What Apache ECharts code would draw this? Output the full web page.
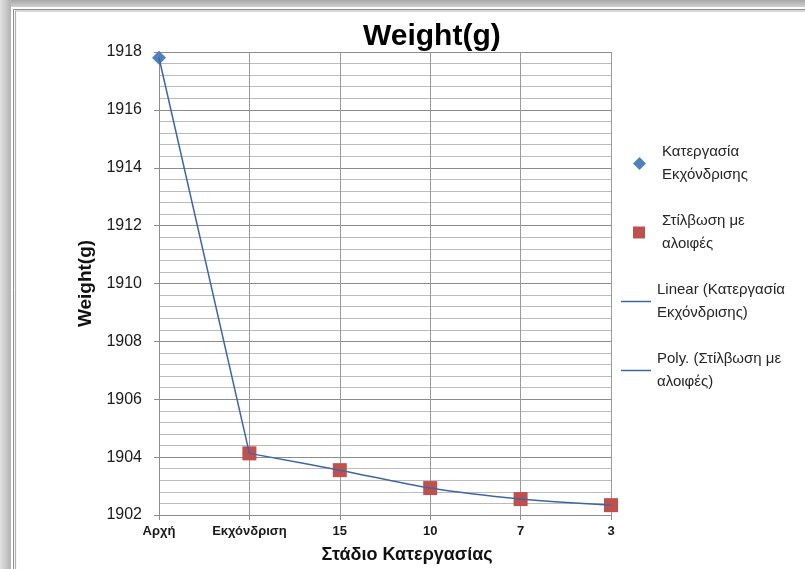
<!DOCTYPE html>
<html>
<head>
<meta charset="utf-8">
<script src="https://cdn.jsdelivr.net/npm/echarts@6/dist/echarts.min.js"></script>
<style>
  html, body { margin: 0; padding: 0; background: #fff; }
  #chart { width: 805px; height: 569px; }
</style>
</head>
<body>
<div id="chart"></div>
<script>
// Processing stages along the x axis
const stages = ['Αρχή', 'Εκχόνδριση', '15', '10', '7', '3'];

// Series values (grams); '-' marks a stage with no measurement
const chondroWeights = [1917.8, 1904.13, '-', '-', '-', '-'];
const polishWeights = ['-', 1904.13, 1903.55, 1902.93, 1902.55, 1902.34];

// Y axis range and step
const yMin = 1902;
const yMax = 1918;
const yStep = 2;

const names = {
  chondro: 'Κατεργασία Εκχόνδρισης',
  polish: 'Στίλβωση με αλοιφές',
  linear: 'Linear (Κατεργασία Εκχόνδρισης)',
  poly: 'Poly. (Στίλβωση με αλοιφές)'
};
const legendText = {};
legendText[names.chondro] = 'Κατεργασία\nΕκχόνδρισης';
legendText[names.polish] = 'Στίλβωση με\nαλοιφές';
legendText[names.linear] = 'Linear (Κατεργασία\nΕκχόνδρισης)';
legendText[names.poly] = 'Poly. (Στίλβωση με\nαλοιφές)';

const FONT = 'Liberation Sans, Arial, sans-serif';
const lineColor = '#3D67A3';

function legendFor(name, icon, left, top, w, h, textLeftPad) {
  return {
    data: [{ name: name, icon: icon }],
    orient: 'vertical',
    left: left,
    top: top,
    padding: 0,
    itemWidth: w,
    itemHeight: h,
    selectedMode: false,
    formatter: n => legendText[n],
    textStyle: {
      fontFamily: FONT,
      fontSize: 15,
      color: '#262626',
      lineHeight: 23,
      padding: [23, 0, 0, textLeftPad]
    }
  };
}

const chart = echarts.init(document.getElementById('chart'), null, { renderer: 'canvas' });

chart.setOption({
  backgroundColor: '#ffffff',
  animation: false,
  graphic: [
    {
      type: 'rect', z: -10, silent: true,
      shape: { x: 0, y: 0, width: 805, height: 7 },
      style: { fill: new echarts.graphic.LinearGradient(0, 0, 0, 1, [
        { offset: 0, color: '#a8a8a8' }, { offset: 1, color: '#cfcfcf' }]) }
    },
    {
      type: 'rect', z: -10, silent: true,
      shape: { x: 0, y: 0, width: 11, height: 569 },
      style: { fill: new echarts.graphic.LinearGradient(0, 0, 1, 0, [
        { offset: 0, color: '#e2e2e2' }, { offset: 1, color: '#b2b2b2' }]) }
    },
    {
      type: 'rect', z: -9, silent: true,
      shape: { x: 13.5, y: 9.5, width: 820, height: 600 },
      style: { fill: 'none', stroke: '#8e8e8e', lineWidth: 1 }
    },
    {
      type: 'rect', z: -9, silent: true,
      shape: { x: 15.5, y: 11, width: 820, height: 600 },
      style: { fill: 'none', stroke: '#b0b0b0', lineWidth: 1.2 }
    }
  ],
  title: {
    text: 'Weight(g)',
    left: 358,
    top: 17,
    textStyle: { fontFamily: FONT, fontSize: 30, fontWeight: 'bold', color: '#000' }
  },
  legend: [
    legendFor(names.chondro, 'diamond', 633, 129, 13, 13, 11),
    legendFor(names.polish, 'rect', 633, 198, 12, 12, 12),
    legendFor(names.linear, 'rect', 621, 267, 30, 1.5, 1),
    legendFor(names.poly, 'rect', 621, 336, 30, 1.5, 1)
  ],
  grid: { left: 159, right: 194, top: 52, bottom: 52, containLabel: false },
  xAxis: {
    type: 'category',
    data: stages,
    boundaryGap: false,
    name: 'Στάδιο Κατεργασίας',
    nameLocation: 'middle',
    nameGap: 31,
    nameTextStyle: {
      fontFamily: FONT, fontSize: 18, fontWeight: 'bold', color: '#111',
      padding: [0, 0, 0, 44]
    },
    axisLine: { show: true, lineStyle: { color: '#8c8c8c', width: 1 } },
    axisTick: { show: true, length: 5, interval: 0, lineStyle: { color: '#8c8c8c' } },
    axisLabel: {
      interval: 0, margin: 10, fontFamily: FONT, fontSize: 13, fontWeight: 'bold', color: '#1a1a1a'
    },
    splitLine: { show: true, interval: 0, lineStyle: { color: '#9a9a9a', width: 1 } }
  },
  yAxis: {
    type: 'value',
    min: yMin,
    max: yMax,
    interval: yStep,
    name: 'Weight(g)',
    nameLocation: 'middle',
    nameGap: 64,
    nameTextStyle: { fontFamily: FONT, fontSize: 19, fontWeight: 'bold', color: '#111' },
    axisLine: { show: true, lineStyle: { color: '#8c8c8c', width: 1 } },
    axisTick: { show: true, length: 5, lineStyle: { color: '#8c8c8c' } },
    axisLabel: {
      margin: 17, fontFamily: FONT, fontSize: 16, color: '#1a1a1a',
      formatter: v => String(v)
    },
    splitLine: { show: true, lineStyle: { color: '#8c8c8c', width: 1 } },
    minorTick: { show: false, splitNumber: 5 },
    minorSplitLine: { show: true, lineStyle: { color: '#bbbbbb', width: 1 } }
  },
  series: [
    {
      name: names.chondro,
      type: 'scatter',
      data: chondroWeights,
      symbol: 'diamond',
      symbolSize: 14,
      itemStyle: { color: '#4F81BD', opacity: 1 },
      z: 3
    },
    {
      name: names.polish,
      type: 'scatter',
      data: polishWeights,
      symbol: 'rect',
      symbolSize: 14,
      itemStyle: { color: '#C0504D', opacity: 1 },
      z: 3
    },
    {
      name: names.linear,
      type: 'line',
      data: chondroWeights,
      showSymbol: false,
      symbol: 'none',
      connectNulls: false,
      lineStyle: { color: lineColor, width: 1.5 },
      itemStyle: { color: lineColor },
      z: 5
    },
    {
      name: names.poly,
      type: 'line',
      data: polishWeights,
      smooth: 0.35,
      showSymbol: false,
      symbol: 'none',
      lineStyle: { color: lineColor, width: 1.5 },
      itemStyle: { color: lineColor },
      z: 5
    }
  ]
});
</script>
</body>
</html>
